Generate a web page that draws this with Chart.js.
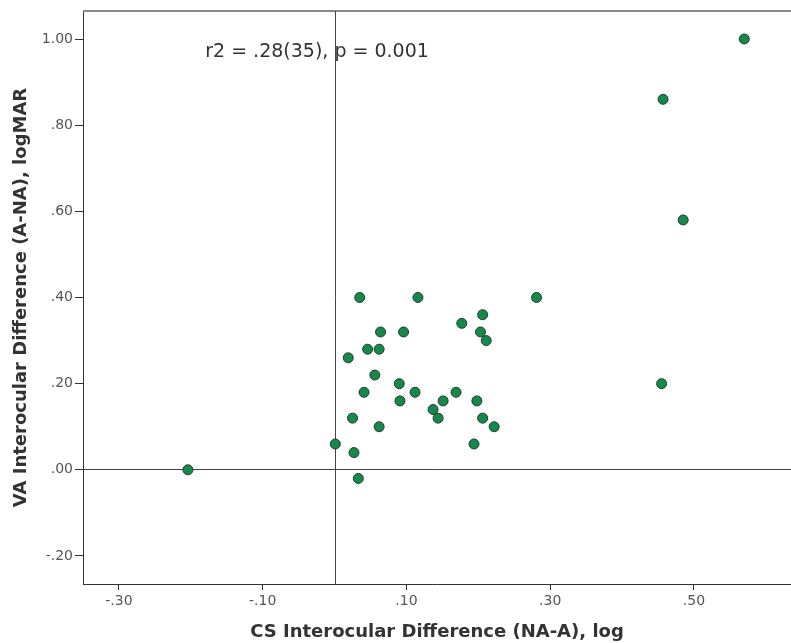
<!DOCTYPE html>
<html>
<head>
<meta charset="utf-8">
<script src="https://cdn.jsdelivr.net/npm/chart.js@4.4.1/dist/chart.umd.min.js"></script>
<style>
  html, body { margin: 0; padding: 0; background: #fff; }
  #wrap { width: 791px; height: 643px; }
</style>
</head>
<body>
<div id="wrap"><canvas id="scatter"></canvas></div>
<script>
// Data (CS diff, VA diff)
const csDiff = [
  0.035, 0.116, 0.281, 0.206, 0.177, 0.064, 0.096, 0.203, 0.211, 0.046,
  0.062, 0.019, 0.056, 0.090, 0.041, 0.112, 0.169, 0.091, 0.151, 0.198,
  0.137, 0.025, 0.144, 0.206, 0.062, 0.222, 0.001, 0.194, 0.027, -0.204,
  0.033, 0.570, 0.457, 0.485, 0.455
];
const vaDiff = [
  0.40, 0.40, 0.40, 0.36, 0.34, 0.32, 0.32, 0.32, 0.30, 0.28,
  0.28, 0.26, 0.22, 0.20, 0.18, 0.18, 0.18, 0.16, 0.16, 0.16,
  0.14, 0.12, 0.12, 0.12, 0.10, 0.10, 0.06, 0.06, 0.04, 0.00,
  -0.02, 1.00, 0.86, 0.58, 0.20
];
const xTicks = [-0.30, -0.10, 0.10, 0.30, 0.50];
const yTicks = [-0.20, 0.00, 0.20, 0.40, 0.60, 0.80, 1.00];
const statText = 'r2 = .28(35), p = 0.001';

const fmt = v => {
  const s = Math.abs(v).toFixed(2).replace(/^0/, '');
  return (v < 0 ? '-' : '') + s;
};

// top frame line, x = 0 reference line and the fit statistic
const framePlugin = {
  id: 'frame',
  beforeDatasetsDraw(chart) {
    const { ctx, chartArea: a, scales: { x, y } } = chart;
    ctx.save();
    ctx.strokeStyle = '#8a8a8a';
    ctx.lineWidth = 2;
    ctx.beginPath();
    ctx.moveTo(a.left, a.top);
    ctx.lineTo(a.right, a.top);
    ctx.stroke();
    const x0 = Math.round(x.getPixelForValue(0)) + 0.5;
    ctx.strokeStyle = '#444';
    ctx.lineWidth = 1;
    ctx.beginPath();
    ctx.moveTo(x0, a.top);
    ctx.lineTo(x0, a.bottom);
    ctx.stroke();
    ctx.fillStyle = '#333';
    ctx.font = '19px "DejaVu Sans"';
    ctx.textBaseline = 'middle';
    ctx.fillText(statText, x.getPixelForValue(-0.18), y.getPixelForValue(0.97));
    ctx.restore();
  }
};

new Chart(document.getElementById('scatter'), {
  type: 'scatter',
  data: {
    datasets: [{
      data: csDiff.map((v, i) => ({ x: v, y: vaDiff[i] })),
      pointRadius: 5,
      pointHoverRadius: 5,
      backgroundColor: '#13894b',
      borderColor: '#263a2c',
      borderWidth: 1
    }]
  },
  options: {
    responsive: true,
    maintainAspectRatio: false,
    animation: false,
    layout: { autoPadding: false, padding: { top: 11, right: 0, left: 0, bottom: 0 } },
    plugins: { legend: { display: false }, tooltip: { enabled: false } },
    scales: {
      x: {
        type: 'linear',
        min: -0.35,
        max: 0.635,
        afterBuildTicks: s => { s.ticks = xTicks.map(v => ({ value: v })); },
        afterFit: s => { s.height = 59; },
        grid: { drawOnChartArea: false, tickLength: 6, tickColor: '#333' },
        border: { color: '#333', width: 1 },
        ticks: {
          callback: v => fmt(v),
          color: '#555',
          font: { family: 'DejaVu Sans', size: 14 },
          padding: 3,
          maxRotation: 0
        },
        title: {
          display: true,
          text: 'CS Interocular Difference (NA-A), log',
          color: '#333',
          font: { family: 'DejaVu Sans', size: 18, weight: 'bold' },
          padding: { top: 0, bottom: 0 }
        }
      },
      y: {
        type: 'linear',
        min: -0.265,
        max: 1.065,
        afterBuildTicks: s => { s.ticks = yTicks.map(v => ({ value: v })); },
        afterFit: s => { s.width = 83; },
        grid: {
          color: c => (c.tick && Math.abs(c.tick.value) < 1e-9 ? '#444' : 'rgba(0,0,0,0)'),
          tickColor: '#333',
          tickLength: 8
        },
        border: { color: '#333', width: 1 },
        ticks: {
          callback: v => fmt(v),
          color: '#555',
          font: { family: 'DejaVu Sans', size: 14 },
          padding: 2
        },
        title: {
          display: true,
          text: 'VA Interocular Difference (A-NA), logMAR',
          color: '#333',
          font: { family: 'DejaVu Sans', size: 18, weight: 'bold' },
          padding: { top: 11, bottom: 0 }
        }
      }
    }
  },
  plugins: [framePlugin]
});
</script>
</body>
</html>
